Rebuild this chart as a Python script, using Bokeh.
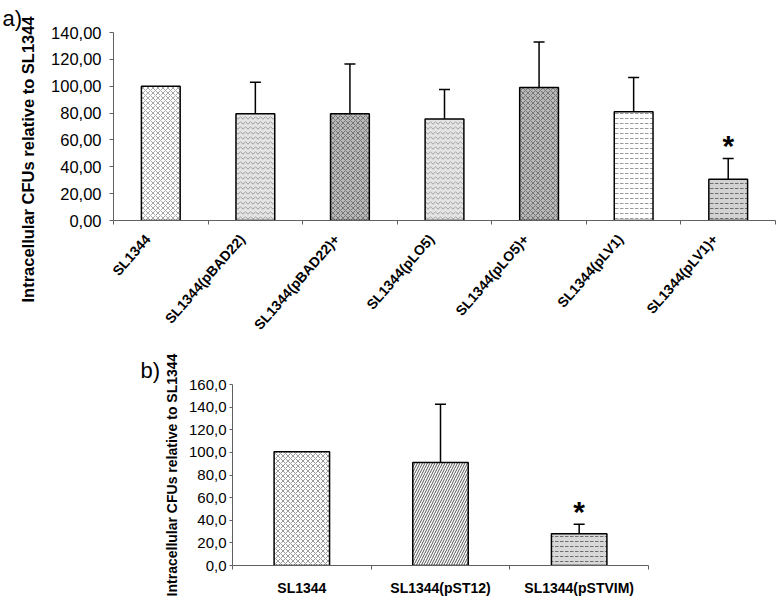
import numpy as np
from bokeh.plotting import figure
from bokeh.models import Range1d, FixedTicker, Title, Whisker, ColumnDataSource, TeeHead
from bokeh.layouts import column
from bokeh.embed import file_html
from bokeh.resources import INLINE
from bokeh.core.properties import value

# ---------------- data: panel a ----------------
strains_a = ["SL1344", "SL1344(pBAD22)", "SL1344(pBAD22)+", "SL1344(pLO5)",
             "SL1344(pLO5)+", "SL1344(pLV1)", "SL1344(pLV1)+"]
cfu_a = [100.0, 79.5, 79.5, 75.5, 99.0, 81.0, 30.8]
err_a = [0.0, 23.5, 37.0, 22.0, 34.0, 25.5, 15.4]
signif_a = [False, False, False, False, False, False, True]
yticks_a = [0, 20, 40, 60, 80, 100, 120, 140]
ytick_labels_a = ["0,00", "20,00", "40,00", "60,00", "80,00", "100,00", "120,00", "140,00"]

# ---------------- data: panel b ----------------
strains_b = ["SL1344", "SL1344(pST12)", "SL1344(pSTVIM)"]
cfu_b = [100.5, 91.0, 28.0]
err_b = [0.0, 51.5, 8.5]
signif_b = [False, False, True]
yticks_b = [0, 20, 40, 60, 80, 100, 120, 140, 160]
ytick_labels_b = ["0,0", "20,0", "40,0", "60,0", "80,0", "100,0", "120,0", "140,0", "160,0"]

ylabel = "Intracellular CFUs relative to SL1344"

# ---------------- styles ----------------
FONT = "Liberation Sans"
AXIS_COLOR = "#606060"
fills_a = ["white", "#e4e4e4", "#b8b8b8", "#e4e4e4", "#b8b8b8", "white", "#d2d2d2"]
hatch_a = ["diagonal_cross", "horizontal_wave", "diagonal_cross", "horizontal_wave",
           "diagonal_cross", "horizontal_dash", "horizontal_dash"]
hcol_a = ["#a8a8a8", "#9a9a9a", "#767676", "#a0a0a0", "#767676", "#9a9a9a", "#6e6e6e"]
fills_b = ["white", "white", "#d8d8d8"]
hatch_b = ["diagonal_cross", "right_diagonal_line", "horizontal_dash"]
hcol_b = ["#9a9a9a", "#555555", "#6e6e6e"]


def make_panel(strains, vals, errs, signif, yticks, ylabels, ymax, fills, hatches, hcols,
               width, height, mb, bar_w, tick_font, xlab_font, xlab_orient, xlab_standoff,
               xlab_shift, ytick_out, ytick_standoff):
    n = len(strains)
    xs = np.arange(n) + 0.5
    p = figure(width=width, height=height, output_backend="svg", toolbar_location=None,
               x_range=Range1d(0, n), y_range=Range1d(0, ymax),
               min_border_left=mb[0], min_border_right=mb[1],
               min_border_top=mb[2], min_border_bottom=mb[3], frame_align=False)
    p.outline_line_color = None
    p.xgrid.grid_line_color = None
    p.ygrid.grid_line_color = None
    p.background_fill_color = "white"
    p.border_fill_color = "white"

    src = ColumnDataSource(dict(x=xs, top=vals, fill=fills, hatch=hatches, hcol=hcols))
    p.vbar(x="x", top="top", width=bar_w, source=src, fill_color="fill",
           line_color="black", line_width=1.5, hatch_pattern="hatch",
           hatch_color="hcol", hatch_scale=5, hatch_weight=1)

    keep = [i for i in range(n) if errs[i] > 0]
    esrc = ColumnDataSource(dict(
        x=[xs[i] for i in keep],
        upper=[vals[i] + errs[i] for i in keep],
        lower=[vals[i] - errs[i] for i in keep]))
    w = Whisker(source=esrc, base="x", upper="upper", lower="lower",
                line_color="black", line_width=1.5,
                upper_head=TeeHead(size=11, line_width=1.5, line_color="black"),
                lower_head=TeeHead(size=11, line_width=1.5, line_color="black"))
    p.add_layout(w)

    sx = [xs[i] for i in range(n) if signif[i]]
    sy = [vals[i] + errs[i] for i in range(n) if signif[i]]
    p.text(x=sx, y=sy, text=["*"] * len(sx), text_font=value(FONT),
           text_font_size="30px", text_font_style="bold", text_align="center",
           text_baseline="alphabetic", y_offset=-13, text_color="black")

    # x axis: ticks at category boundaries, labels near centres
    label_pos = [float(x - xlab_shift) for x in xs]
    xa = p.xaxis[0]
    xa.ticker = FixedTicker(ticks=label_pos, minor_ticks=list(range(n + 1)))
    xa.major_label_overrides = {x: s for x, s in zip(label_pos, strains)}
    xa.major_tick_line_color = None
    xa.major_tick_out = 0
    xa.major_tick_in = 0
    xa.minor_tick_out = 4
    xa.minor_tick_in = 0
    xa.minor_tick_line_color = AXIS_COLOR
    xa.axis_line_color = AXIS_COLOR
    xa.major_label_text_font = FONT
    xa.major_label_text_font_style = "bold"
    xa.major_label_text_font_size = xlab_font
    xa.major_label_text_color = "black"
    xa.major_label_orientation = xlab_orient
    xa.major_label_standoff = xlab_standoff

    ya = p.yaxis[0]
    ya.ticker = FixedTicker(ticks=yticks, minor_ticks=[])
    ya.major_label_overrides = {t: s for t, s in zip(yticks, ylabels)}
    ya.major_tick_out = ytick_out
    ya.major_tick_in = 0
    ya.major_tick_line_color = AXIS_COLOR
    ya.minor_tick_line_color = None
    ya.axis_line_color = AXIS_COLOR
    ya.major_label_text_font = FONT
    ya.major_label_text_font_size = tick_font
    ya.major_label_text_color = "black"
    ya.major_label_standoff = ytick_standoff
    return p


# ---------------- panel a ----------------
pa = make_panel(strains_a, cfu_a, err_a, signif_a, yticks_a, ytick_labels_a, 140,
                fills_a, hatch_a, hcol_a, width=777, height=353, mb=(113, 2, 32, 133),
                bar_w=0.41, tick_font="16.5px", xlab_font="14px", xlab_orient=0.85,
                xlab_standoff=12, xlab_shift=0.14, ytick_out=4, ytick_standoff=8)
pa.add_layout(Title(text=ylabel, align="left", offset=-82, vertical_align="middle",
                    standoff=22, text_font=FONT, text_font_size="16.5px",
                    text_font_style="bold", text_color="black"), "left")
pa.add_layout(Title(text="a)", align="left", offset=-111, vertical_align="bottom",
                    standoff=4, text_font=FONT, text_font_size="22px",
                    text_font_style="normal", text_color="black"), "above")

# ---------------- panel b ----------------
pb = make_panel(strains_b, cfu_b, err_b, signif_b, yticks_b, ytick_labels_b, 160,
                fills_b, hatch_b, hcol_b, width=777, height=245, mb=(232, 129, 30, 33),
                bar_w=0.40, tick_font="15px", xlab_font="14px", xlab_orient="horizontal",
                xlab_standoff=10, xlab_shift=0.0, ytick_out=3, ytick_standoff=3)
pb.yaxis[0].axis_label = ylabel
pb.yaxis[0].axis_label_text_font = FONT
pb.yaxis[0].axis_label_text_font_size = "14px"
pb.yaxis[0].axis_label_text_font_style = "bold"
pb.yaxis[0].axis_label_text_color = "black"
pb.yaxis[0].axis_label_standoff = 6
pb.add_layout(Title(text="b)", align="left", offset=-92, vertical_align="bottom",
                    standoff=4, text_font=FONT, text_font_size="22px",
                    text_font_style="normal", text_color="black"), "above")

layout = column(pa, pb, spacing=0)
open("out.html", "w").write(file_html(layout, INLINE))
